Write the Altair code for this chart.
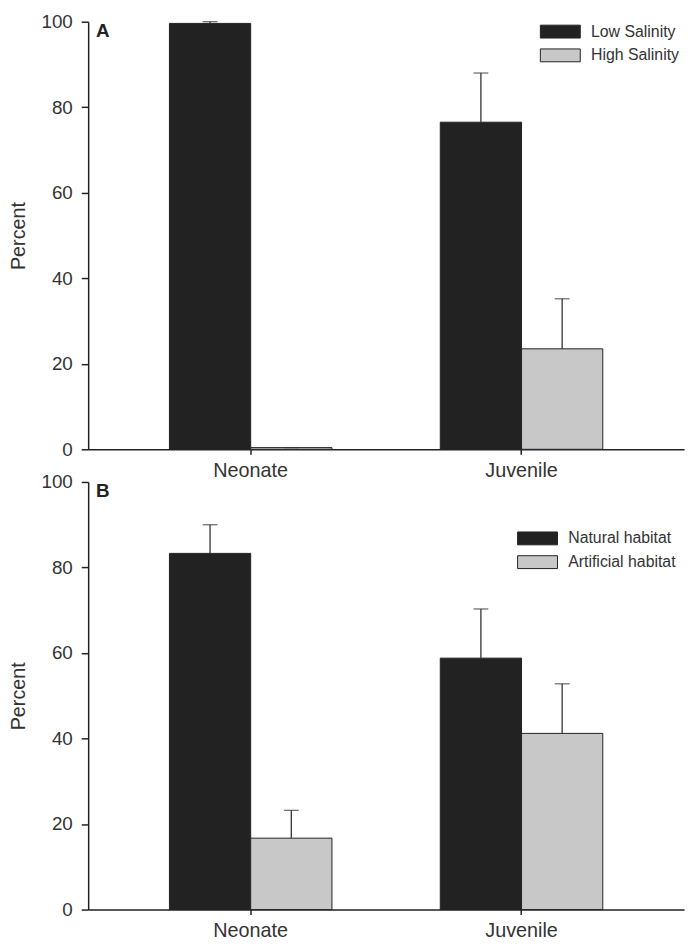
import altair as alt
import pandas as pd

stages = ["Neonate", "Juvenile"]

salinity_groups = ["Low Salinity", "High Salinity"]
low_salinity = [99.6, 76.5]
low_salinity_err = [0.4, 11.5]
high_salinity = [0.4, 23.5]
high_salinity_err = [0.0, 11.7]

habitat_groups = ["Natural habitat", "Artificial habitat"]
natural_habitat = [83.3, 58.8]
natural_habitat_err = [6.7, 11.5]
artificial_habitat = [16.7, 41.2]
artificial_habitat_err = [6.5, 11.6]

FONT = "Liberation Sans"
DARK = "#222222"
LIGHT = "#c8c8c8"
SWATCH = "M-3.1,-1L3.1,-1L3.1,1L-3.1,1Z"


def frame(groups, values, errors):
    rows = []
    for g, vals, errs in zip(groups, values, errors):
        for s, v, e in zip(stages, vals, errs):
            rows.append({"stage": s, "group": g, "value": v, "upper": v + e})
    return pd.DataFrame(rows)


def panel(df, groups, letter, legend_x, legend_y):
    x = alt.X(
        "stage:N",
        sort=stages,
        scale=alt.Scale(paddingInner=0.4, paddingOuter=0.3),
        axis=alt.Axis(title=None, labelAngle=0, tickSize=5, labelPadding=6,
                      labelFontSize=20),
    )
    xo = alt.XOffset("group:N", sort=groups,
                     scale=alt.Scale(domain=groups, paddingInner=0,
                                     paddingOuter=0))
    y = alt.Y(
        "value:Q",
        scale=alt.Scale(domain=[0, 100], nice=False),
        axis=alt.Axis(values=[0, 20, 40, 60, 80, 100], title="Percent",
                      tickSize=7, labelPadding=9, labelFontSize=19,
                      titleFontSize=20, titleFontWeight="normal",
                      titlePadding=13),
    )
    color = alt.Color(
        "group:N",
        sort=groups,
        scale=alt.Scale(domain=groups, range=[DARK, LIGHT]),
        legend=alt.Legend(
            title=None, orient="none", legendX=legend_x, legendY=legend_y,
            symbolType=SWATCH, symbolSize=169, symbolStrokeColor="#222",
            symbolStrokeWidth=1, symbolOpacity=1, labelOffset=23,
            labelFontSize=16, labelColor="#333", rowPadding=6, padding=0,
        ),
    )
    bars = alt.Chart(df).mark_bar(
        stroke="#222", strokeWidth=1, width=alt.RelativeBandSize(1)
    ).encode(x=x, xOffset=xo, y=y, color=color)
    stem = alt.Chart(df).mark_rule(color="#333", strokeWidth=1.3).encode(
        x=x, xOffset=xo, y="value:Q", y2="upper:Q")
    cap = alt.Chart(df).mark_tick(color="#333", thickness=1.3, size=15,
                                  orient="horizontal").encode(
        x=x, xOffset=xo, y="upper:Q")
    label = alt.Chart(pd.DataFrame({"t": [letter]})).mark_text(
        align="left", baseline="top", fontSize=19, fontWeight="bold",
        font=FONT, color="#222").encode(
        text="t:N", x=alt.value(8), y=alt.value(0))
    return alt.layer(bars, stem, cap, label).properties(width=602, height=432)


top = panel(frame(salinity_groups, [low_salinity, high_salinity],
                  [low_salinity_err, high_salinity_err]),
            salinity_groups, "A", 469, 2)
bottom = panel(frame(habitat_groups, [natural_habitat, artificial_habitat],
                     [natural_habitat_err, artificial_habitat_err]),
               habitat_groups, "B", 446, 49)

chart = alt.vconcat(top, bottom, spacing=33, bounds="flush").resolve_scale(
    color="independent", xOffset="independent"
).properties(
    padding={"left": 0, "top": 0, "right": 4, "bottom": 5}
).configure_view(strokeWidth=0).configure_scale(
    offsetBandPaddingInner=0, offsetBandPaddingOuter=0
).configure_axis(
    labelFont=FONT, titleFont=FONT, labelColor="#333", titleColor="#333",
    domainColor="#222", domainWidth=1.5, tickColor="#222", tickWidth=1.5,
    grid=False,
).configure_legend(labelFont=FONT)

chart.save("out.html", embed_options={"renderer": "svg", "actions": False})
